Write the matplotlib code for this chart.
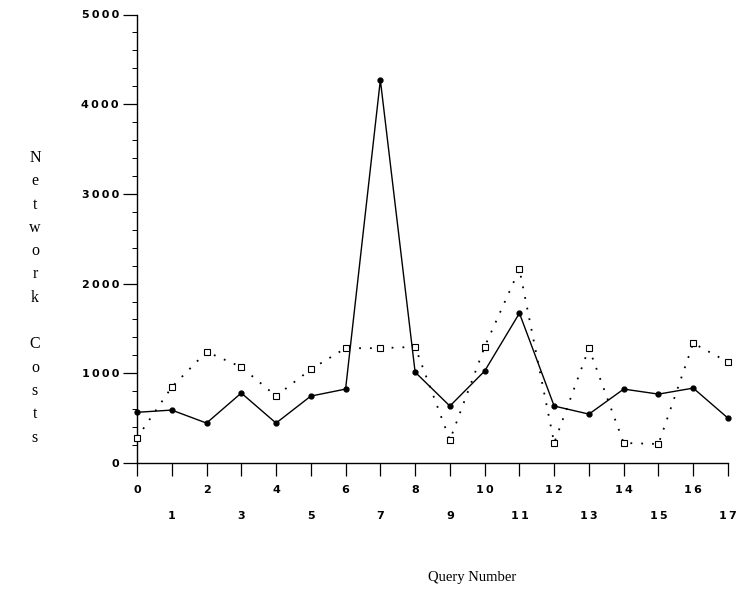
import numpy as np
import matplotlib
matplotlib.use("Agg")
import matplotlib.pyplot as plt
from matplotlib.ticker import MultipleLocator

# query numbers and network costs
queries = list(range(18))
cost_solid = [565, 590, 445, 780, 445, 746, 824, 4270, 1013, 635,
              1025, 1670, 635, 545, 824, 768, 835, 500]
cost_dotted = [280, 846, 1240, 1070, 746, 1045, 1280, 1280, 1295, 256,
               1295, 2160, 223, 1280, 223, 212, 1335, 1125]
y_ticks = [0, 1000, 2000, 3000, 4000, 5000]
ylabel_letters = list("Network") + [""] + list("Costs")


def spaced(v):
    # typewriter look: digits spread apart with thin spaces
    return "\u2009".join(str(v))


fig = plt.figure(figsize=(7.49, 5.96), dpi=100)
ax = fig.add_axes([137 / 749, 1 - 463 / 596, 591 / 749, 448.5 / 596])

ax.plot(queries, cost_solid, color="black", lw=1.0, marker="o",
        markersize=3.5, markerfacecolor="black", clip_on=False, zorder=3)
ax.plot(queries, cost_dotted, color="black", lw=1.3, linestyle=(0, (1, 5)),
        marker="s", markersize=4.5, markerfacecolor="white",
        markeredgecolor="black", markeredgewidth=0.8, clip_on=False, zorder=3)

ax.set_xlim(0, 17)
ax.set_ylim(0, 5000)

for s in ["top", "right"]:
    ax.spines[s].set_visible(False)
for s in ["left", "bottom"]:
    ax.spines[s].set_linewidth(1.0)

digits = dict(family="DejaVu Sans", weight="bold", size=8)

# even labels on the first row, odd labels on the second row
evens = [q for q in queries if q % 2 == 0]
odds = [q for q in queries if q % 2 == 1]
ax.set_xticks(evens)
ax.set_xticklabels([spaced(q) for q in evens], fontdict=digits)
ax.set_xticks(odds, minor=True)
ax.set_xticklabels([spaced(q) for q in odds], minor=True, fontdict=digits)
ax.tick_params(axis="x", which="major", direction="out", length=9.5,
               width=0.9, pad=6)
ax.tick_params(axis="x", which="minor", direction="out", length=9.5,
               width=0.9, pad=25)

ax.set_yticks(y_ticks)
ax.set_yticklabels([spaced(v) for v in y_ticks], fontdict=digits)
ax.yaxis.set_minor_locator(MultipleLocator(200))
ax.tick_params(axis="y", which="major", direction="out", length=10,
               width=0.9, pad=3)
ax.tick_params(axis="y", which="minor", direction="out", length=3.5,
               width=0.7)

# stacked letters of the y label
y0, step = 158, 23.3
for i, ch in enumerate(ylabel_letters):
    fig.text(35 / 749, 1 - (y0 + i * step) / 596, ch, ha="center",
             va="center", family="Liberation Serif", fontsize=11.5)

fig.text(472 / 749, 1 - 578 / 596, "Query Number", ha="center",
         va="center", family="Liberation Serif", fontsize=10.5)

fig.savefig("out.png", dpi=100)
